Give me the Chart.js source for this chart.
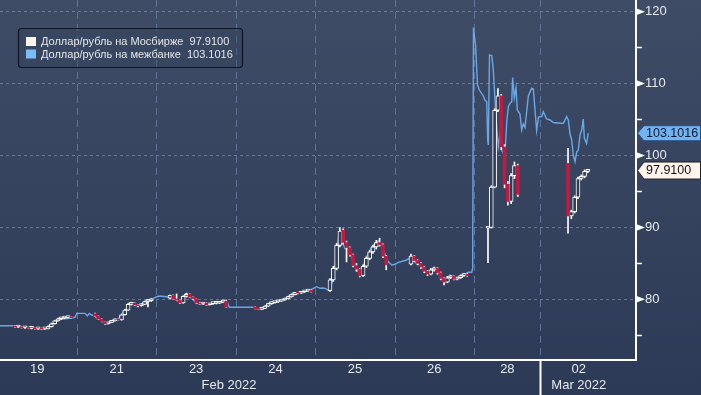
<!DOCTYPE html>
<html><head><meta charset="utf-8">
<script src="https://cdn.jsdelivr.net/npm/chart.js@4.4.1/dist/chart.umd.min.js"></script>
<style>html,body{margin:0;padding:0;background:#34425e;overflow:hidden}canvas{display:block}</style>
</head><body>
<canvas id="c" width="701" height="395"></canvas>
<script>
// ---- axis data (x in trading-day units, y in RUB per USD) ----
const dayLabels = ['19','21','23','24','25','26','28','02'];
const dayLabelPos = [0.5,1.5,2.5,3.5,4.5,5.5,6.42,7.32];
const monthLabels = ['Feb 2022','Mar 2022'];
const monthLabelPos = [2.914,7.32];
const dayBounds = [1,2,3,4,5,6,6.831];
const monthBoundary = 6.831;
const yTicks = [75,80,85,90,95,100,105,110,115,120];
const xMin = 0.0302, xMax = 8.040, yMin = 71.56, yMax = 121.63;

const seriesNames = ['Доллар/рубль на Мосбирже','Доллар/рубль на межбанке'];
const lastValues = [97.9100, 103.1016];

// ---- interbank line ----
const interbankX = [0.030,0.207,0.257,0.345,0.471,0.597,0.622,0.723,0.786,0.912,0.975,0.996,1.101,1.130,1.155,1.185,1.227,1.248,1.290,1.331,1.365,1.394,1.437,1.479,1.520,1.541,1.583,1.626,1.646,1.667,1.709,1.752,1.793,1.835,1.878,1.898,1.941,2.004,
2.045,2.130,2.193,2.256,2.297,2.319,2.360,2.381,2.414,2.444,2.486,2.507,2.549,2.591,2.633,2.675,2.738,2.779,2.822,2.864,2.893,2.918,3.220,3.254,3.283,3.326,3.368,3.409,3.452,3.494,3.556,3.598,3.641,3.682,3.724,3.767,3.830,3.893,3.934,3.976,4.019,4.060,
4.098,4.123,4.174,4.211,4.249,4.274,4.303,4.325,4.346,4.375,4.397,4.429,4.459,4.480,4.510,4.543,4.564,4.585,4.606,4.627,4.648,4.681,4.711,4.753,4.795,4.825,4.857,4.891,4.920,4.963,5.005,5.046,5.109,5.152,5.194,5.235,5.269,5.298,5.341,5.383,5.424,5.467,5.496,5.521,5.550,5.580,5.606,5.635,5.664,5.697,5.731,5.760,5.802,5.845,5.886,5.928,5.971,5.983,
5.993,6.019,6.044,6.067,6.117,6.138,6.160,6.172,6.180,6.195,6.223,6.243,6.264,6.286,6.306,6.327,6.348,6.369,6.390,6.412,6.432,6.453,6.475,6.487,6.507,6.529,6.545,6.579,6.600,6.621,6.642,6.684,6.726,6.747,6.768,6.789,6.812,6.852,6.873,6.913,6.957,6.999,7.083,7.124,7.167,7.187,7.209,7.230,7.250,7.272,7.293,7.313,7.335,7.356,7.376,7.389,7.417,7.439];
const interbankY = [76.33,76.33,76.22,76.15,75.94,75.83,76.01,76.88,77.22,77.36,77.50,78.05,78.05,77.68,78.05,77.82,77.68,77.36,77.22,76.88,76.56,76.75,77.02,77.22,77.22,77.58,78.28,78.75,79.35,79.53,79.35,79.07,79.21,79.53,79.90,79.67,80.00,80.36,
80.46,80.36,80.14,79.90,79.44,79.67,80.74,80.83,80.36,80.14,79.67,79.44,79.35,79.44,79.21,79.30,79.44,79.53,79.67,79.81,79.67,78.89,78.89,78.75,78.61,78.75,79.07,79.44,79.58,79.67,79.81,80.00,80.28,80.60,80.92,80.92,81.06,81.20,81.29,81.53,81.75,81.53,
81.57,81.53,81.22,82.27,84.35,86.86,89.32,89.18,87.79,87.09,87.55,86.86,85.92,85.01,84.53,83.84,83.48,83.84,84.53,85.47,85.92,86.62,87.32,87.79,88.11,87.79,86.86,85.92,85.23,84.77,84.87,85.15,85.33,85.47,85.79,85.70,85.01,84.87,84.53,83.84,83.62,84.07,84.39,84.07,83.84,83.38,82.68,82.36,82.92,83.38,83.14,82.82,83.00,83.38,83.48,83.76,83.76,84.35,
117.80,115.37,109.81,109.11,108.28,107.72,107.48,102.16,101.46,113.98,113.91,111.89,107.72,103.82,101.18,102.85,100.76,100.35,100.07,104.66,106.79,107.26,107.48,110.85,108.00,109.46,106.33,105.77,103.55,104.38,103.89,108.28,109.35,109.25,106.33,103.48,105.35,105.42,106.09,105.08,104.94,104.59,104.48,104.48,105.40,104.94,102.99,102.16,100.07,99.14,100.49,100.76,102.85,103.55,105.08,102.43,101.70,103.10];

// ---- Moscow exchange hourly candles [open, high, low, close] ----
const sessionStart = [0.219,1.227,2.171,3.242,4.186,5.206,6.176,7.184];
const hourStep = 1/24;
const feb19 = [[76.30,76.35,76.10,76.15],[76.15,76.25,76.05,76.20],[76.20,76.22,76.00,76.05],[76.05,76.15,75.95,76.10],[76.10,76.12,75.90,75.95],[75.95,76.05,75.88,76.00],[76.00,76.05,75.85,75.90],[75.90,76.00,75.85,75.95],[75.95,76.00,75.82,75.88],[75.88,75.98,75.82,75.90],[75.90,76.30,75.88,76.20],[76.20,76.70,76.15,76.60],[76.60,77.10,76.55,77.00],[77.00,77.40,76.95,77.30],[77.30,77.45,77.20,77.40],[77.40,77.50,77.30,77.45],[77.45,77.60,77.40,77.55],[77.55,77.60,77.40,77.45]];
const feb21 = [[78.00,78.10,77.60,77.65],[77.65,77.70,77.20,77.25],[77.25,77.30,76.85,76.90],[76.90,76.95,76.50,76.60],[76.60,76.85,76.55,76.80],[76.80,77.05,76.75,77.00],[77.00,77.25,76.95,77.20],[77.20,77.30,77.10,77.15],[77.15,77.90,77.10,77.85],[77.85,78.60,77.80,78.50],[78.50,79.40,78.45,79.30],[79.30,79.60,79.20,79.45],[79.45,79.50,79.10,79.20],[79.20,79.30,78.95,79.10],[79.10,79.40,79.05,79.30],[79.30,79.75,79.25,79.70],[79.70,79.95,78.95,79.80],[79.80,80.10,79.70,80.00]];
const feb23 = [[80.15,80.60,80.10,80.55],[80.55,80.60,80.00,80.05],[80.05,80.75,79.85,79.90],[79.90,79.95,79.40,79.50],[79.50,80.50,79.45,80.40],[80.40,80.85,80.30,80.70],[80.70,80.75,80.25,80.30],[80.30,80.35,80.00,80.10],[80.10,80.15,79.40,79.50],[79.50,79.60,79.30,79.35],[79.35,79.55,79.30,79.50],[79.50,79.55,79.20,79.25],[79.25,79.45,79.20,79.40],[79.40,79.50,79.30,79.45],[79.45,79.55,79.35,79.45],[79.45,79.70,79.40,79.60],[79.60,79.90,79.55,79.80],[79.75,79.90,78.85,78.90]];
const feb24 = [[78.95,79.00,78.65,78.70],[78.70,78.75,78.55,78.60],[78.60,78.80,78.55,78.75],[78.75,79.10,78.70,79.05],[79.05,79.45,79.00,79.40],[79.40,79.60,79.30,79.55],[79.55,79.70,79.45,79.65],[79.65,79.80,79.55,79.75],[79.75,79.95,79.70,79.90],[79.90,80.15,79.85,80.10],[80.10,80.40,80.05,80.35],[80.35,80.70,80.30,80.65],[80.65,80.95,80.60,80.90],[80.90,80.95,80.75,80.85],[80.85,81.10,80.80,81.05],[81.05,81.20,80.95,81.15],[81.15,81.30,81.10,81.25],[81.25,81.30,81.00,81.05]];
const feb25 = [[81.20,82.90,81.10,82.70],[82.70,84.60,82.50,84.30],[84.30,87.80,84.10,87.50],[87.50,89.99,87.30,89.50],[89.60,89.80,87.70,87.90],[87.90,88.10,85.20,87.20],[87.20,87.30,86.00,86.20],[86.20,86.30,84.50,84.70],[84.70,85.00,83.90,84.20],[84.20,84.30,83.10,83.30],[83.30,84.80,83.20,84.60],[84.60,85.90,84.40,85.70],[85.70,86.80,85.50,86.60],[86.60,87.50,86.40,87.30],[87.30,88.20,87.00,87.90],[87.90,88.50,87.40,87.60],[87.60,87.70,85.80,86.00],[86.00,86.10,84.10,84.80]];
const feb26 = [[84.90,86.30,84.80,86.00],[86.00,86.10,85.20,85.40],[85.40,85.50,84.80,85.00],[85.00,85.10,84.30,84.50],[84.50,84.60,83.70,83.90],[83.90,84.00,83.30,83.50],[83.50,84.30,83.40,84.10],[84.10,84.50,83.90,84.30],[84.30,84.40,83.50,83.70],[83.70,83.80,82.70,82.90],[82.90,83.00,82.00,82.40],[82.40,83.20,82.30,83.00],[83.00,83.30,82.90,83.20],[83.20,83.25,82.70,82.80],[82.80,83.10,82.70,83.00],[83.00,83.40,82.90,83.30],[83.30,83.60,83.20,83.50],[83.50,83.60,83.20,83.30]];
const feb28 = [[89.90,90.10,85.10,90.00],[90.00,95.80,89.90,95.60],[95.60,106.50,95.50,106.30],[106.30,109.30,106.10,108.30],[108.30,108.50,100.80,101.20],[101.20,101.50,95.50,96.00],[96.00,96.40,93.10,93.60],[93.60,97.50,93.30,97.20],[97.20,99.10,96.80,98.60],[98.60,98.80,94.30,94.60]];
const mar02 = [[98.90,101.00,89.20,91.60],[91.60,92.40,91.20,92.20],[92.20,94.40,92.00,94.20],[94.20,97.00,94.00,96.80],[96.80,97.30,96.60,97.10],[97.10,98.00,96.90,97.80],[97.80,98.00,97.60,97.91]];
const candleDays = [feb19,feb21,feb23,feb24,feb25,feb26,feb28,mar02];

// ---- build datasets ----
const lineData = interbankX.map((x,i)=>({x, y: interbankY[i]}));
const wicks = [], upBodies = [], downBodies = [];
candleDays.forEach((day,d)=>day.forEach((c,i)=>{
  const x = sessionStart[d] + i*hourStep;
  const [o,h,l,cl] = c;
  wicks.push({x, y:[l,h]});
  if (cl >= o) upBodies.push({x, y:[o,cl]}); else downBodies.push({x, y:[cl,o]});
}));

const FONT = '"Liberation Sans", Arial, sans-serif';
Chart.defaults.font.family = FONT;
Chart.defaults.color = '#e6e8ec';

const bgPlugin = {
  id:'bg',
  beforeDraw(chart){
    const {ctx, width, height} = chart;
    const g = ctx.createLinearGradient(0,0,0,height);
    g.addColorStop(0,'#3f4c66');
    g.addColorStop(1,'#2c3a57');
    ctx.save(); ctx.fillStyle = g; ctx.fillRect(0,0,width,height); ctx.restore();
  },
  beforeDatasetsDraw(chart){
    const {ctx, chartArea} = chart;
    const xs = chart.scales.x;
    ctx.save();
    ctx.strokeStyle = '#5c7497';
    ctx.lineWidth = 1;
    ctx.setLineDash([7,5]);
    dayBounds.forEach(v=>{
      const px = Math.round(xs.getPixelForValue(v)) + 0.5;
      ctx.beginPath(); ctx.moveTo(px, chartArea.top); ctx.lineTo(px, chartArea.bottom); ctx.stroke();
    });
    ctx.restore();
  }
};

const decoPlugin = {
  id:'deco',
  afterDraw(chart){
    const {ctx, chartArea} = chart;
    const ys = chart.scales.y;
    const ax = chartArea.right;
    ctx.save();
    // major tick triangles
    ctx.fillStyle = '#ffffff';
    yTicks.filter(v=>v%10===0).forEach(v=>{
      const py = ys.getPixelForValue(v);
      ctx.beginPath(); ctx.moveTo(ax, py-3.5); ctx.lineTo(ax+9, py); ctx.lineTo(ax, py+3.5); ctx.closePath(); ctx.fill();
    });
    // last value tags
    const tags = [
      {v:lastValues[1], txt:lastValues[1].toFixed(4), fill:'#72b3f0', stroke:'#24508a', color:'#0c1a33', h:15},
      {v:lastValues[0], txt:lastValues[0].toFixed(4), fill:'#fff4ec', stroke:'#222222', color:'#111111', h:17}
    ];
    ctx.font = '12.5px ' + FONT;
    ctx.textBaseline = 'middle';
    tags.forEach(t=>{
      const py = ys.getPixelForValue(t.v);
      const hh = t.h/2;
      ctx.beginPath();
      ctx.moveTo(ax+1.5, py); ctx.lineTo(ax+8, py-hh); ctx.lineTo(700.5, py-hh); ctx.lineTo(700.5, py+hh); ctx.lineTo(ax+8, py+hh); ctx.closePath();
      ctx.fillStyle = t.fill; ctx.fill();
      ctx.lineWidth = 1; ctx.strokeStyle = t.stroke; ctx.stroke();
      ctx.fillStyle = t.color; ctx.textAlign = 'left';
      ctx.fillText(t.txt, ax+10, py+0.5);
    });
    // legend box
    const lx = 18.5, ly = 28.5, lw = 224, lh = 39, r = 3;
    ctx.beginPath();
    ctx.moveTo(lx+r, ly); ctx.lineTo(lx+lw-r, ly); ctx.quadraticCurveTo(lx+lw, ly, lx+lw, ly+r);
    ctx.lineTo(lx+lw, ly+lh-r); ctx.quadraticCurveTo(lx+lw, ly+lh, lx+lw-r, ly+lh);
    ctx.lineTo(lx+r, ly+lh); ctx.quadraticCurveTo(lx, ly+lh, lx, ly+lh-r);
    ctx.lineTo(lx, ly+r); ctx.quadraticCurveTo(lx, ly, lx+r, ly); ctx.closePath();
    ctx.fillStyle = 'rgba(50,62,88,0.35)'; ctx.fill();
    ctx.lineWidth = 1.2; ctx.strokeStyle = '#0e1422'; ctx.stroke();
    const sw = ['#fff3ee','#7dbdf7'];
    const items = [seriesNames[0]+'  '+lastValues[0].toFixed(4), seriesNames[1]+'  '+lastValues[1].toFixed(4)];
    ctx.font = '11px ' + FONT;
    ctx.textAlign = 'left'; ctx.textBaseline = 'middle';
    items.forEach((txt,i)=>{
      const cy = 41.5 + i*12.5;
      ctx.fillStyle = sw[i]; ctx.fillRect(26, cy-4.5, 10, 9);
      ctx.fillStyle = '#e4e6ea'; ctx.fillText(txt, 41, cy+0.5);
    });
    ctx.restore();
  }
};

const xBase = {type:'linear', min:xMin, max:xMax, offset:false};

new Chart(document.getElementById('c'), {
  type:'bar',
  data:{datasets:[
    {type:'line', label:seriesNames[1], data:lineData, borderColor:'#69a8e8', borderWidth:1.4, pointRadius:0, tension:0, order:4, xAxisID:'x', yAxisID:'y'},
    {label:'wick', data:wicks, backgroundColor:'#ffffff', borderWidth:0, barThickness:1, minBarLength:1, grouped:false, order:3, xAxisID:'x', yAxisID:'y'},
    {label:seriesNames[0], data:upBodies, backgroundColor:'#303d59', borderColor:'#ffffff', borderWidth:1, borderSkipped:false, barThickness:4, minBarLength:2, grouped:false, order:2, xAxisID:'x', yAxisID:'y'},
    {label:'down', data:downBodies, backgroundColor:'#c01a40', borderWidth:0, barThickness:3, minBarLength:1, grouped:false, order:1, xAxisID:'x', yAxisID:'y'}
  ]},
  options:{
    responsive:false, animation:false, devicePixelRatio:1,
    layout:{padding:0},
    plugins:{legend:{display:false}, tooltip:{enabled:false}},
    scales:{
      xg:Object.assign({}, xBase, {
        position:'bottom', weight:0,
        afterBuildTicks(s){ s.ticks = dayBounds.map(v=>({value:v})); },
        afterFit(s){ s.height = 0; s.paddingLeft = 0; s.paddingRight = 0; },
        ticks:{display:false, autoSkip:false},
        grid:{display:true, offset:false, drawOnChartArea:false, drawTicks:true, tickLength:35, color:'rgba(0,0,0,0)', lineWidth:1,
              tickWidth:2, tickColor:(c)=> (c.tick && Math.abs(c.tick.value-monthBoundary)<1e-6) ? '#ffffff' : 'rgba(0,0,0,0)'},
        border:{display:false}
      }),
      x:Object.assign({}, xBase, {
        position:'bottom', weight:1,
        afterBuildTicks(s){ s.ticks = dayLabelPos.map(v=>({value:v})); },
        afterFit(s){ s.height = 16; s.paddingLeft = 0; s.paddingRight = 0; },
        ticks:{autoSkip:false, maxRotation:0, padding:2, font:{size:13}, color:'#e6e8ec', callback:(v,i)=>dayLabels[i]},
        grid:{display:false, offset:false, drawOnChartArea:false, drawTicks:false},
        border:{display:true, color:'#ffffff', width:2}
      }),
      x2:Object.assign({}, xBase, {
        position:'bottom', weight:2,
        afterBuildTicks(s){ s.ticks = monthLabelPos.map(v=>({value:v})); },
        afterFit(s){ s.height = 19; s.paddingLeft = 0; s.paddingRight = 0; },
        ticks:{autoSkip:false, maxRotation:0, padding:2, font:{size:13}, color:'#e6e8ec', callback:(v,i)=>monthLabels[i]},
        grid:{display:false, offset:false, drawOnChartArea:false, drawTicks:false},
        border:{display:false}
      }),
      y:{
        type:'linear', position:'right', min:yMin, max:yMax,
        afterBuildTicks(s){ s.ticks = yTicks.map(v=>({value:v})); },
        afterFit(s){ s.width = 65; s.paddingTop = 0; s.paddingBottom = 0; },
        ticks:{autoSkip:false, padding:3, font:{size:13}, color:'#e6e8ec', callback:(v)=> v%10===0 ? String(v) : ''},
        grid:{drawOnChartArea:true, drawTicks:true, tickLength:6, lineWidth:1, tickWidth:1.5,
              color:(c)=> (c.tick && c.tick.value%10===0) ? 'rgba(150,165,192,0.55)' : 'rgba(0,0,0,0)',
              tickColor:(c)=> (c.tick && c.tick.value%10===0) ? 'rgba(0,0,0,0)' : '#ffffff'},
        border:{display:true, color:'#ffffff', width:2, dash:[3,3]}
      }
    }
  },
  plugins:[bgPlugin, decoPlugin]
});
</script>
</body></html>
